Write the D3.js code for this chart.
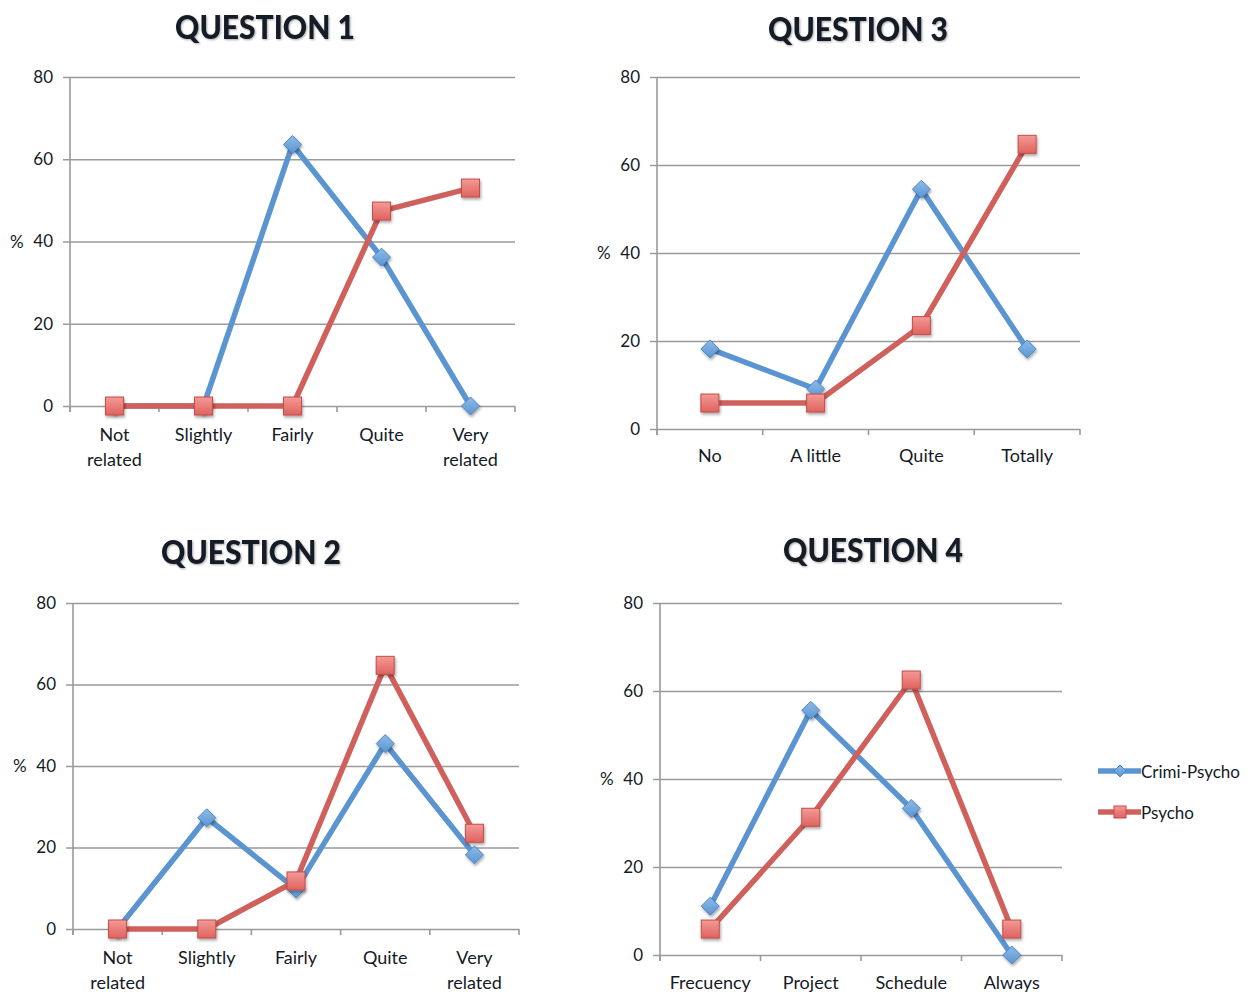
<!DOCTYPE html>
<html>
<head>
<meta charset="utf-8">
<script src="https://cdn.jsdelivr.net/npm/d3@7"></script>
<style>
  html, body { margin: 0; padding: 0; background: #fff; }
  svg { display: block; }
  text { font-family: Lato, "Open Sans", sans-serif; fill: #141a26; }
</style>
</head>
<body>
<svg id="chart" width="1255" height="994"></svg>
<script>
// Survey answers, percentage of respondents per group
const seriesNames = ["Crimi-Psycho", "Psycho"];
const yTicks = [0, 20, 40, 60, 80];

const q1Categories = [["Not", "related"], ["Slightly"], ["Fairly"], ["Quite"], ["Very", "related"]];
const q1Crimi = [0, 0, 63.6, 36.2, 0];
const q1Psycho = [0, 0, 0, 47.4, 53];

const q2Categories = [["Not", "related"], ["Slightly"], ["Fairly"], ["Quite"], ["Very", "related"]];
const q2Crimi = [0, 27.3, 9.8, 45.5, 18.2];
const q2Psycho = [0, 0, 11.8, 64.7, 23.5];

const q3Categories = [["No"], ["A little"], ["Quite"], ["Totally"]];
const q3Crimi = [18.2, 9.1, 54.5, 18.2];
const q3Psycho = [5.9, 5.9, 23.5, 64.7];

const q4Categories = [["Frecuency"], ["Project"], ["Schedule"], ["Always"]];
const q4Crimi = [11.1, 55.6, 33.3, 0];
const q4Psycho = [5.9, 31.3, 62.5, 5.9];

const panels = [
  { title: "QUESTION 1", cats: q1Categories, crimi: q1Crimi, psycho: q1Psycho,
    left: 70, right: 515, top: 77, bottom: 406, titleX: 265, titleY: 39, labelGap: 35 },
  { title: "QUESTION 3", cats: q3Categories, crimi: q3Crimi, psycho: q3Psycho,
    left: 657, right: 1080, top: 77, bottom: 429, titleX: 858, titleY: 41, labelGap: 33 },
  { title: "QUESTION 2", cats: q2Categories, crimi: q2Crimi, psycho: q2Psycho,
    left: 73, right: 519, top: 603, bottom: 929, titleX: 251, titleY: 564, labelGap: 35 },
  { title: "QUESTION 4", cats: q4Categories, crimi: q4Crimi, psycho: q4Psycho,
    left: 660, right: 1062, top: 603, bottom: 955, titleX: 873, titleY: 562, labelGap: 34 }
];

const blue = "#5b95d1", red = "#d0605c";

const svg = d3.select("#chart");
const defs = svg.append("defs");

const gBlue = defs.append("linearGradient").attr("id", "gBlue").attr("x1", 0).attr("y1", 0).attr("x2", 0).attr("y2", 1);
gBlue.append("stop").attr("offset", "0%").attr("stop-color", "#8dbbea");
gBlue.append("stop").attr("offset", "100%").attr("stop-color", "#5b95d1");
const gRed = defs.append("linearGradient").attr("id", "gRed").attr("x1", 0).attr("y1", 0).attr("x2", 0).attr("y2", 1);
gRed.append("stop").attr("offset", "0%").attr("stop-color", "#f39a96");
gRed.append("stop").attr("offset", "100%").attr("stop-color", "#e0625e");

const shadow = defs.append("filter").attr("id", "shadow").attr("x", "-50%").attr("y", "-50%").attr("width", "200%").attr("height", "200%");
shadow.append("feDropShadow").attr("dx", 1).attr("dy", 2).attr("stdDeviation", 1.5).attr("flood-color", "#000").attr("flood-opacity", 0.35);

const titleShadow = defs.append("filter").attr("id", "tshadow").attr("x", "-10%").attr("y", "-30%").attr("width", "120%").attr("height", "160%");
titleShadow.append("feDropShadow").attr("dx", 1).attr("dy", 1).attr("stdDeviation", 1).attr("flood-color", "#000").attr("flood-opacity", 0.35);

panels.forEach(p => {
  const g = svg.append("g");
  const x = d3.scaleBand().domain(d3.range(p.cats.length)).range([p.left, p.right]);
  const y = d3.scaleLinear().domain([0, 80]).range([p.bottom, p.top]);

  // title
  g.append("text").attr("x", p.titleX).attr("y", p.titleY)
    .attr("text-anchor", "middle").attr("font-size", 33).attr("font-weight", 900)
    .attr("filter", "url(#tshadow)")
    .attr("textLength", 180).attr("lengthAdjust", "spacingAndGlyphs")
    .text(p.title);

  // horizontal gridlines and y ticks
  const yAxis = d3.axisLeft(y).tickValues(yTicks).tickSize(-(p.right - p.left + 7)).tickFormat(d3.format("d"));
  const ya = g.append("g").attr("transform", `translate(${p.left - 7},0)`).call(yAxis);
  ya.select(".domain").remove();
  ya.selectAll(".tick line").attr("stroke", "#9a9a9a").attr("stroke-width", 1.6)
    .attr("x1", 0).attr("x2", p.right - p.left + 7);
  ya.selectAll(".tick text").attr("font-size", 17).attr("x", -10).style("fill", "#141a26").attr("font-family", "Lato, sans-serif");

  // vertical axis line
  g.append("line").attr("x1", p.left).attr("x2", p.left).attr("y1", p.top).attr("y2", p.bottom + 6)
    .attr("stroke", "#9a9a9a").attr("stroke-width", 1.6);

  // x tick marks at category boundaries
  const bounds = d3.range(p.cats.length + 1).map(i => p.left + i * x.step());
  g.selectAll(".xt").data(bounds).join("line")
    .attr("x1", d => d).attr("x2", d => d).attr("y1", p.bottom).attr("y2", p.bottom + 6)
    .attr("stroke", "#9a9a9a").attr("stroke-width", 1.6);

  // "%" axis label
  g.append("text").attr("x", p.left - 60).attr("y", y(40) + 6).attr("font-size", 17).text("%");

  // category labels
  p.cats.forEach((lines, i) => {
    const t = g.append("text").attr("text-anchor", "middle").attr("font-size", 18)
      .attr("x", x(i) + x.bandwidth() / 2).attr("y", p.bottom + p.labelGap);
    lines.forEach((ln, j) => t.append("tspan").attr("x", x(i) + x.bandwidth() / 2).attr("dy", j === 0 ? 0 : 25).text(ln));
  });

  const cx = i => x(i) + x.bandwidth() / 2;
  const line = d3.line().x((d, i) => cx(i)).y(d => y(d));

  // series lines
  g.append("path").datum(p.crimi).attr("d", line).attr("fill", "none")
    .attr("stroke", blue).attr("stroke-width", 5.5).attr("stroke-linejoin", "round");
  g.append("path").datum(p.psycho).attr("d", line).attr("fill", "none")
    .attr("stroke", red).attr("stroke-width", 5.5).attr("stroke-linejoin", "round");

  // markers
  g.selectAll(".dia").data(p.crimi).join("path")
    .attr("d", "M0,-9 L9,0 L0,9 L-9,0 Z")
    .attr("transform", (d, i) => `translate(${cx(i)},${y(d)})`)
    .attr("fill", "url(#gBlue)").attr("stroke", "#4f86c0").attr("stroke-width", 1)
    .attr("filter", "url(#shadow)");

  g.selectAll(".sq").data(p.psycho).join("rect")
    .attr("x", (d, i) => cx(i) - 9).attr("y", d => y(d) - 9)
    .attr("width", 18).attr("height", 18)
    .attr("fill", "url(#gRed)").attr("stroke", "#c24d49").attr("stroke-width", 1)
    .attr("filter", "url(#shadow)");
});

// legend
const legend = svg.append("g");
const legendRows = [
  { name: seriesNames[0], color: blue, y: 771, shape: "diamond" },
  { name: seriesNames[1], color: red, y: 812, shape: "square" }
];
legendRows.forEach(r => {
  legend.append("line").attr("x1", 1098).attr("x2", 1141).attr("y1", r.y).attr("y2", r.y)
    .attr("stroke", r.color).attr("stroke-width", 5.5);
  if (r.shape === "diamond") {
    legend.append("path").attr("d", "M0,-6 L6,0 L0,6 L-6,0 Z")
      .attr("transform", `translate(1120,${r.y})`).attr("fill", "url(#gBlue)").attr("stroke", "#4f86c0");
  } else {
    legend.append("rect").attr("x", 1114).attr("y", r.y - 6).attr("width", 12).attr("height", 12)
      .attr("fill", "url(#gRed)").attr("stroke", "#c24d49");
  }
  legend.append("text").attr("x", 1141).attr("y", r.y + 7).attr("font-size", 17).text(r.name);
});
</script>
</body>
</html>
